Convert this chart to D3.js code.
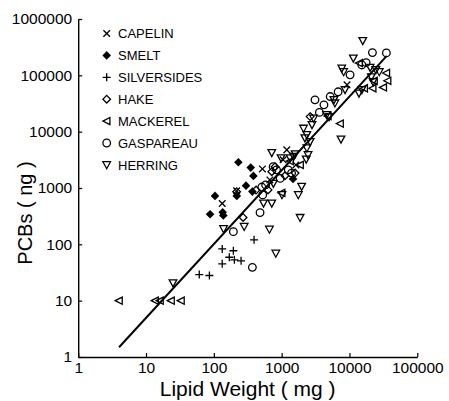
<!DOCTYPE html>
<html><head><meta charset="utf-8">
<script src="https://cdn.jsdelivr.net/npm/d3@7"></script>
<style>
html,body{margin:0;padding:0;background:#fff;}
svg{display:block;font-family:"Liberation Sans",Arial,Helvetica,sans-serif;}
</style></head>
<body>
<svg id="chart" width="449" height="401"></svg>
<script>
// ---- data (Lipid weight mg, PCBs ng) ----
const species = ["CAPELIN","SMELT","SILVERSIDES","HAKE","MACKEREL","GASPAREAU","HERRING"];
const capelin = [[133,530],[520,2180],[1190,4750],[217,890],[9200,67800],[1050,3160],[670,1390],[1620,2570]];
const smelt = [[230,2870],[350,2300],[383,1640],[104,724],[88,343],[135,372],[138,326],[218,724],[298,1100],[370,863],[1470,1450]];
const silversides = [[61,29],[86,28],[133,83],[194,77],[169,59],[201,53],[252,51],[133,45],[392,120]];
const hake = [[270,300],[217,860],[800,2390],[715,1950],[1580,1840],[2630,18500],[420,920],[1120,1650],[630,925]];
const mackerel = [[4.0,10],[13.6,10],[16.1,10],[23.4,10],[32.8,10],[7270,13900],[35000,110000],[36500,80000],[23000,80000],[22000,59000],[31500,61000],[13900,165000],[1000,820],[4800,19000],[16500,59000],[1330,3000],[1870,2570]];
const gaspareau = [[21800,253000],[35000,250000],[17600,168000],[15200,153000],[10200,102000],[3100,36700],[4200,29900],[5200,42000],[6800,51000],[3600,22000],[510,1040],[525,754],[480,366],[194,168],[370,39],[580,1135],[750,2390],[840,2100],[1250,2100],[1400,1840],[950,1480]];
const herring = [[15700,410000],[11400,200000],[7700,133000],[8200,115000],[20140,137000],[24500,125000],[27500,115000],[21000,93000],[22300,77000],[15200,55300],[13800,48000],[8600,55300],[5900,36700],[6100,32000],[4600,19900],[5000,18400],[2950,17200],[2800,13200],[2100,11400],[2350,8800],[2200,7700],[2630,6600],[2350,5100],[2450,3870],[2300,3230],[7500,7300],[1580,4000],[1330,3400],[1970,1060],[1760,754],[1010,754],[1870,297],[755,1200],[540,535],[715,535],[139,188],[280,206],[660,184],[820,69],[715,4220],[1500,3600],[980,3400],[25,20.6]];
const fitX = [4, 35500];
const fitY = [1.49, 222000];
const xTicks = [1,10,100,1000,10000,100000];
const yTicks = [1,10,100,1000,10000,100000,1000000];

const seriesData = [capelin, smelt, silversides, hake, mackerel, gaspareau, herring];

const svg = d3.select("#chart");
const x = d3.scaleLog().domain([1,100000]).range([78.2,417.3]);
const y = d3.scaleLog().domain([1,1000000]).range([357,19]);

const SW = 1.3;
function marker(g, type){
  const s = 3.3;
  switch(type){
    case 0: // x
      g.append("path").attr("d",`M${-s},${-s}L${s},${s}M${-s},${s}L${s},${-s}`)
       .attr("stroke","#000").attr("stroke-width",SW).attr("fill","none"); break;
    case 1: // filled diamond
      g.append("path").attr("d",`M0,${-4.3}L${4.3},0L0,${4.3}L${-4.3},0Z`).attr("fill","#000"); break;
    case 2: // plus
      g.append("path").attr("d",`M${-4},0L${4},0M0,${-4}L0,${4}`)
       .attr("stroke","#000").attr("stroke-width",SW).attr("fill","none"); break;
    case 3: // hollow diamond
      g.append("path").attr("d",`M0,${-3.8}L${3.8},0L0,${3.8}L${-3.8},0Z`)
       .attr("stroke","#000").attr("stroke-width",SW).attr("fill","none"); break;
    case 4: // left triangle
      g.append("path").attr("d",`M${-3.8},0L${3.2},${-3.6}L${3.2},${3.6}Z`)
       .attr("stroke","#000").attr("stroke-width",SW).attr("fill","none"); break;
    case 5: // circle
      g.append("circle").attr("r",3.8)
       .attr("stroke","#000").attr("stroke-width",SW).attr("fill","none"); break;
    case 6: // down triangle
      g.append("path").attr("d",`M${-3.8},${-3.2}L${3.8},${-3.2}L0,${3.8}Z`)
       .attr("stroke","#000").attr("stroke-width",SW).attr("fill","none"); break;
  }
}

// axes
const fmt = d => String(d);
const xAxis = d3.axisBottom(x).tickValues(xTicks).tickFormat(fmt).tickSizeInner(-4).tickSizeOuter(0).tickPadding(5);
const yAxis = d3.axisLeft(y).tickValues(yTicks).tickFormat(fmt).tickSizeInner(-4).tickSizeOuter(0).tickPadding(6);

const gx = svg.append("g").attr("transform","translate(0,357)").call(xAxis);
const gy = svg.append("g").attr("transform","translate(78.2,0)").call(yAxis);
[gx,gy].forEach(g=>{
  g.select(".domain").attr("stroke","#000").attr("stroke-width",1.4);
  g.selectAll(".tick line").attr("stroke","#000").attr("stroke-width",1.2);
  g.selectAll(".tick text").attr("fill","#000").attr("font-size",15.5)
   .attr("font-family","Liberation Sans, Arial, sans-serif");
});

// titles
svg.append("text").attr("x",247.7).attr("y",396).attr("text-anchor","middle")
  .attr("font-size",21).text("Lipid Weight ( mg )");
svg.append("text").attr("transform","translate(32,213) rotate(-90)").attr("text-anchor","middle")
  .attr("font-size",20).text("PCBs ( ng )");

// fit line
svg.append("line").attr("x1",x(fitX[0])).attr("y1",y(fitY[0]))
  .attr("x2",x(fitX[1])).attr("y2",y(fitY[1]))
  .attr("stroke","#000").attr("stroke-width",2);

// points
seriesData.forEach((arr,i)=>{
  arr.forEach(d=>{
    const g = svg.append("g").attr("transform",`translate(${x(d[0])},${y(d[1])})`);
    marker(g,i);
  });
});

// legend
species.forEach((name,i)=>{
  const yy = 33.5 + i*21.9;
  const g = svg.append("g").attr("transform",`translate(106.7,${yy})`);
  marker(g,i);
  svg.append("text").attr("x",118).attr("y",yy+4.7).attr("font-size",13).text(name);
});
</script>
</body></html>
